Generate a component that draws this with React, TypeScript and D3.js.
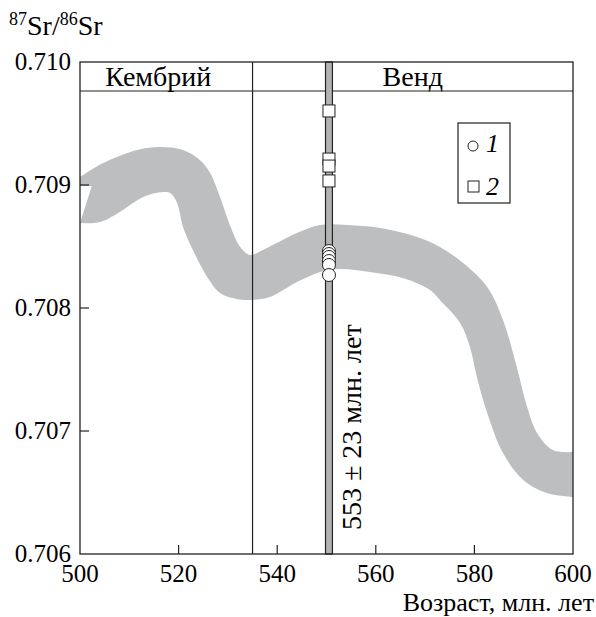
import React, { useEffect, useRef } from 'react';
import * as d3 from 'd3';

// upper and lower edges of the grey seawater Sr curve band [age Ma, 87Sr/86Sr]
const upperEdge: [number, number][] = [
  [500.0, 0.709065], [504.7, 0.709179], [511.6, 0.709285], [516.2, 0.709309],
  [520.9, 0.709285], [524.3, 0.709203], [526.4, 0.709098], [528.4, 0.708902],
  [530.4, 0.708675], [532.5, 0.708496], [534.5, 0.708431], [537.1, 0.708472],
  [544.0, 0.708610], [548.7, 0.708675], [554.2, 0.708675], [560.9, 0.708650],
  [568.4, 0.708577], [573.0, 0.708496], [577.7, 0.708366], [582.6, 0.708171],
  [585.8, 0.707902], [588.6, 0.707520], [590.7, 0.707195], [592.7, 0.706984],
  [595.9, 0.706846], [600.0, 0.706829],
];
const lowerEdge: [number, number][] = [
  [500.0, 0.708691], [504.1, 0.708699], [508.7, 0.708797], [512.8, 0.708902],
  [516.8, 0.708943], [518.3, 0.708935], [519.7, 0.708854], [520.9, 0.708659],
  [522.9, 0.708472], [525.8, 0.708252], [528.4, 0.708122], [531.8, 0.708073],
  [534.5, 0.708065], [538.5, 0.708089], [544.0, 0.708211], [548.7, 0.708293],
  [552.7, 0.708317], [558.8, 0.708293], [565.5, 0.708244], [571.0, 0.708146],
  [573.0, 0.708065], [577.1, 0.707878], [579.1, 0.707683], [580.5, 0.707439],
  [582.6, 0.707146], [585.8, 0.706821], [589.9, 0.706602], [594.7, 0.706496],
  [600.0, 0.706463],
];
// small notch at the left edge of the band
const notch: [number, number][] = [[502.4, 0.708992], [500.0, 0.708992]];

// samples (1 = circles, 2 = squares), all plotted at the same age
const sampleAge = 550.5;
const ageBand = [549.8, 551.2];
const circleValues = [0.708463, 0.708439, 0.708415, 0.708382, 0.70835, 0.708268];
const squareValues = [0.709602, 0.709211, 0.709154, 0.709033];

const periodNames = ['Кембрий', 'Венд'];
const periodEdges = [500, 535, 600];

const xTicks = [500, 520, 540, 560, 580, 600];
const yTicks = [0.706, 0.707, 0.708, 0.709, 0.71];

const FONT = "'Liberation Serif', 'Times New Roman', Times, serif";

function SrChart() {
  const ref = useRef<SVGSVGElement>(null);

  useEffect(() => {
    const svg = d3.select(ref.current)
      .attr('font-family', FONT);

    const x = d3.scaleLinear().domain([500, 600]).range([80, 573]);
    const y = d3.scaleLinear().domain([0.706, 0.71]).range([554, 62]);
    const headerY = 91;

    const line = d3.line<[number, number]>()
      .x((d) => x(d[0]))
      .y((d) => y(d[1]))
      .curve(d3.curveCatmullRom);

    const upperPath = line(upperEdge) || '';
    const lowerPath = line(lowerEdge.slice().reverse()) || '';
    const notchPath = notch.map((d) => 'L' + x(d[0]) + ',' + y(d[1])).join('');

    svg.append('path')
      .attr('d', upperPath + 'L' + lowerPath.slice(1) + notchPath + 'Z')
      .attr('fill', '#bdbebf');

    // period boundary
    svg.append('line')
      .attr('x1', x(periodEdges[1])).attr('x2', x(periodEdges[1]))
      .attr('y1', y(0.71)).attr('y2', y(0.706))
      .attr('stroke', '#222').attr('stroke-width', 1.2);

    // header row
    svg.append('line')
      .attr('x1', x(500)).attr('x2', x(600))
      .attr('y1', headerY).attr('y2', headerY)
      .attr('stroke', '#222').attr('stroke-width', 1.2);

    svg.selectAll('.period')
      .data(periodNames)
      .enter().append('text')
      .attr('x', (d, i) => (x(periodEdges[i]) + x(periodEdges[i + 1])) / 2 - (i === 0 ? 8 : 0))
      .attr('y', 86)
      .attr('text-anchor', 'middle')
      .attr('font-size', 28)
      .text((d) => d);

    // age band of the samples
    svg.append('rect')
      .attr('x', x(ageBand[0]))
      .attr('y', y(0.71))
      .attr('width', x(ageBand[1]) - x(ageBand[0]))
      .attr('height', y(0.706) - y(0.71))
      .attr('fill', '#b3b3b3')
      .attr('stroke', '#222')
      .attr('stroke-width', 1.2);

    svg.append('text')
      .attr('transform', 'translate(' + (x(sampleAge) + 32) + ',530) rotate(-90)')
      .attr('font-size', 28)
      .text('553 ± 23 млн. лет');

    svg.selectAll('.sq')
      .data(squareValues)
      .enter().append('rect')
      .attr('x', x(sampleAge) - 6)
      .attr('y', (d) => y(d) - 6)
      .attr('width', 12).attr('height', 12)
      .attr('fill', 'white').attr('stroke', '#222').attr('stroke-width', 1);

    svg.selectAll('.pt')
      .data(circleValues)
      .enter().append('circle')
      .attr('cx', x(sampleAge))
      .attr('cy', (d) => y(d))
      .attr('r', 6.5)
      .attr('fill', 'white').attr('stroke', '#222').attr('stroke-width', 1);

    // frame
    svg.append('rect')
      .attr('x', x(500)).attr('y', y(0.71))
      .attr('width', x(600) - x(500)).attr('height', y(0.706) - y(0.71))
      .attr('fill', 'none').attr('stroke', '#222').attr('stroke-width', 1.3);

    // ticks
    svg.selectAll('.xt')
      .data(xTicks.slice(1, -1))
      .enter().append('line')
      .attr('x1', (d) => x(d)).attr('x2', (d) => x(d))
      .attr('y1', y(0.706)).attr('y2', y(0.706) - 9)
      .attr('stroke', '#222').attr('stroke-width', 1.2);

    svg.selectAll('.yt')
      .data(yTicks.slice(1, -1))
      .enter().append('line')
      .attr('x1', x(500)).attr('x2', x(500) + 9)
      .attr('y1', (d) => y(d)).attr('y2', (d) => y(d))
      .attr('stroke', '#222').attr('stroke-width', 1.2);

    svg.selectAll('.xl')
      .data(xTicks)
      .enter().append('text')
      .attr('x', (d) => x(d))
      .attr('y', 582)
      .attr('text-anchor', 'middle')
      .attr('font-size', 25)
      .text((d) => d);

    svg.selectAll('.yl')
      .data(yTicks)
      .enter().append('text')
      .attr('x', 71)
      .attr('y', (d) => y(d) + 8)
      .attr('text-anchor', 'end')
      .attr('font-size', 25)
      .text((d) => d3.format('.3f')(d));

    // axis titles
    svg.append('text')
      .attr('x', 594)
      .attr('y', 611)
      .attr('text-anchor', 'end')
      .attr('font-size', 26)
      .text('Возраст, млн. лет');

    const yTitle = svg.append('text')
      .attr('x', 9)
      .attr('y', 35)
      .attr('font-size', 28);
    yTitle.append('tspan').attr('dy', -10).attr('font-size', 18).text('87');
    yTitle.append('tspan').attr('dy', 10).text('Sr/');
    yTitle.append('tspan').attr('dy', -10).attr('font-size', 18).text('86');
    yTitle.append('tspan').attr('dy', 10).text('Sr');

    // legend
    const lg = svg.append('g');
    lg.append('rect')
      .attr('x', 458).attr('y', 123).attr('width', 52).attr('height', 80)
      .attr('fill', 'white').attr('stroke', '#222').attr('stroke-width', 1.2);
    lg.append('circle')
      .attr('cx', 473).attr('cy', 146).attr('r', 5)
      .attr('fill', 'white').attr('stroke', '#222').attr('stroke-width', 1);
    lg.append('rect')
      .attr('x', 468).attr('y', 181).attr('width', 11).attr('height', 11)
      .attr('fill', 'white').attr('stroke', '#222').attr('stroke-width', 1);
    lg.append('text')
      .attr('x', 486).attr('y', 152)
      .attr('font-size', 26).attr('font-style', 'italic')
      .text('1');
    lg.append('text')
      .attr('x', 486).attr('y', 195)
      .attr('font-size', 26).attr('font-style', 'italic')
      .text('2');

    return () => {
      d3.select(ref.current).selectAll('*').remove();
    };
  }, []);

  return (
    <svg
      ref={ref}
      width={596}
      height={617}
      style={{ position: 'absolute', left: 0, top: 0, background: 'white' }}
    ></svg>
  );
}

export default function App() {
  return <SrChart />;
}
